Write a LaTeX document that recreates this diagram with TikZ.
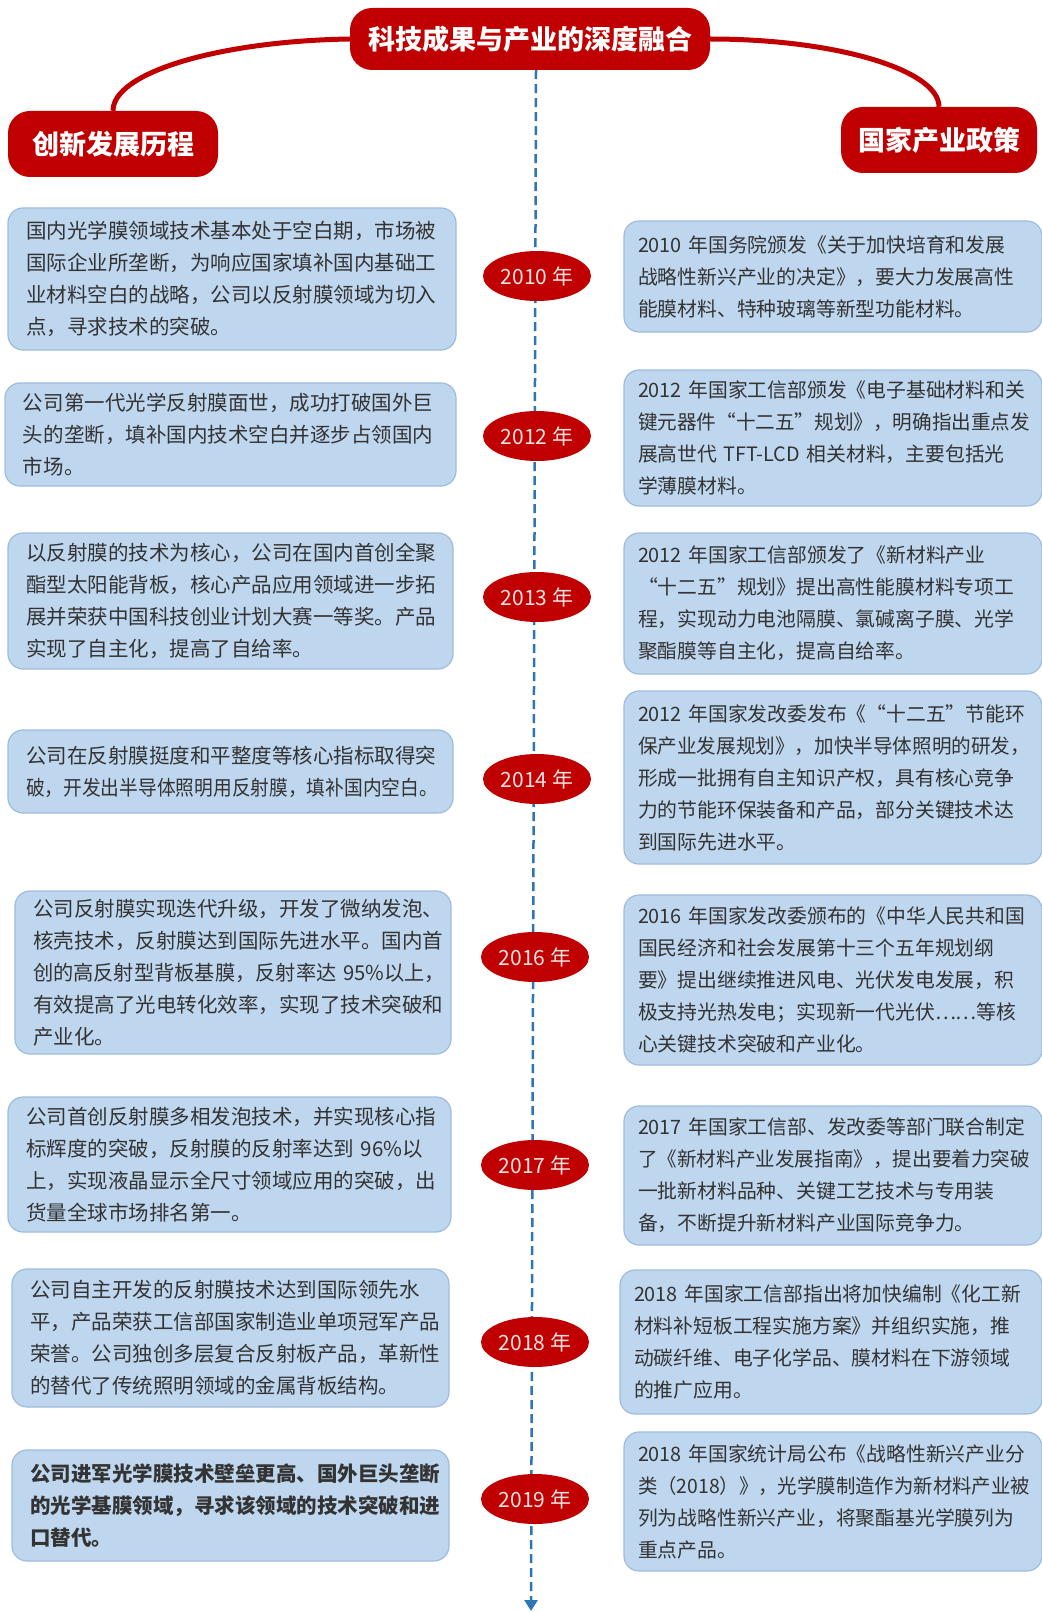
\documentclass[tikz,border=0pt]{standalone}
\usepackage{fontspec}
\setmainfont{Noto Sans CJK SC}
\usepackage{graphicx}
\usetikzlibrary{shapes.geometric,arrows.meta}
\definecolor{hdred}{HTML}{C00000}
\definecolor{boxfill}{HTML}{BED6EE}
\definecolor{boxline}{HTML}{9EBCDD}
\definecolor{txt}{HTML}{333333}
\definecolor{dashblue}{HTML}{2E75B6}
\definecolor{yeartxt}{HTML}{FBE3E3}
\pgfdeclarelayer{bg}
\pgfsetlayers{bg,main}
\newsavebox\fitbox
\makeatletter
\newcommand\fitline[2]{\sbox\fitbox{#2}%
  \ifdim\wd\fitbox>#1\relax
    \edef\fitratio{\strip@pt\dimexpr #1*65536/\wd\fitbox\relax}%
    \scalebox{\fitratio}[1]{\usebox\fitbox}%
  \else\usebox\fitbox\fi}
\makeatother
\newcommand\Ll[1]{\fitline{412pt}{#1}}
\newcommand\Rl[1]{\fitline{392pt}{#1}}
\tikzset{
  lbox/.style={draw=boxline, fill=boxfill, line width=1.2pt, rounded corners=15pt,
    text=txt, font=\fontsize{20.5}{32}\selectfont, align=left, inner xsep=18pt, inner ysep=4pt},
  rbox/.style={draw=boxline, fill=boxfill, line width=1.2pt, rounded corners=15pt,
    text=txt, font=\fontsize{19.8}{32}\selectfont, align=left, inner xsep=14pt, inner ysep=4pt},
  yearnode/.style={ellipse, fill=hdred, text=yeartxt, minimum width=108pt, minimum height=50pt,
    inner sep=0pt, font=\fontsize{21}{24}\selectfont},
  headpill/.style={fill=hdred, rounded corners=22pt, text=white, inner sep=0pt,
    font=\fontsize{27}{30}\selectfont\bfseries},
  curve/.style={draw=hdred, line width=5pt},
  timeline/.style={draw=dashblue, line width=2.5pt, dash pattern=on 9pt off 5pt,
    -{Triangle[width=13pt,length=11pt]}}
}
\begin{document}
\begin{tikzpicture}[x=1pt,y=-1pt]
\useasboundingbox (0,0) rectangle (1041,1613);
% headers
\node[headpill, minimum width=360pt, minimum height=62pt] (title) at (530,39) {科技成果与产业的深度融合};
\node[headpill, minimum width=210pt, minimum height=66pt] (leftHead) at (113,144) {创新发展历程};
\node[headpill, minimum width=196pt, minimum height=66pt] (rightHead) at (939,140) {国家产业政策};
\draw[curve] (title.west) .. controls (221,41) and (113,72) .. (leftHead.north);
\draw[curve] (title.east) .. controls (836,39) and (939,70) .. (rightHead.north);
\coordinate (tlEnd) at (531,1611);
% years
\node[yearnode] (y2010) at (537,276) {2010 年};
\node[yearnode] (y2012) at (537,436) {2012 年};
\node[yearnode] (y2013) at (537,597) {2013 年};
\node[yearnode] (y2014) at (537,779) {2014 年};
\node[yearnode] (y2016) at (535,957) {2016 年};
\node[yearnode] (y2017) at (535,1165) {2017 年};
\node[yearnode] (y2018) at (535,1342) {2018 年};
\node[yearnode] (y2019) at (535,1499) {2019 年};
\begin{pgfonlayer}{bg}
\draw[timeline] ([xshift=6pt]title.south) -- (tlEnd);
\end{pgfonlayer}
% left boxes
\node[lbox, minimum width=448pt, minimum height=142pt, text width=412pt] (L1) at (232,279) {%
\Ll{国内光学膜领域技术基本处于空白期，市场被}\\
\Ll{国际企业所垄断，为响应国家填补国内基础工}\\
\Ll{业材料空白的战略，公司以反射膜领域为切入}\\
\Ll{点，寻求技术的突破。}};
\node[lbox, minimum width=451pt, minimum height=103pt, text width=415pt] (L2) at (230.5,434.5) {%
\Ll{公司第一代光学反射膜面世，成功打破国外巨}\\
\Ll{头的垄断，填补国内技术空白并逐步占领国内}\\
\Ll{市场。}};
\node[lbox, minimum width=445pt, minimum height=136pt, text width=409pt] (L3) at (230.5,601) {%
\Ll{以反射膜的技术为核心，公司在国内首创全聚}\\
\Ll{酯型太阳能背板，核心产品应用领域进一步拓}\\
\Ll{展并荣获中国科技创业计划大赛一等奖。产品}\\
\Ll{实现了自主化，提高了自给率。}};
\node[lbox, minimum width=445pt, minimum height=83pt, text width=409pt] (L4) at (230.5,771.5) {%
\Ll{公司在反射膜挺度和平整度等核心指标取得突}\\
\Ll{破，开发出半导体照明用反射膜，填补国内空白。}};
\node[lbox, minimum width=436pt, minimum height=163pt, text width=400pt] (L5) at (233,972.5) {%
\Ll{公司反射膜实现迭代升级，开发了微纳发泡、}\\
\Ll{核壳技术，反射膜达到国际先进水平。国内首}\\
\Ll{创的高反射型背板基膜，反射率达 95\%以上，}\\
\Ll{有效提高了光电转化效率，实现了技术突破和}\\
\Ll{产业化。}};
\node[lbox, minimum width=443pt, minimum height=135pt, text width=407pt] (L6) at (229.5,1164.5) {%
\Ll{公司首创反射膜多相发泡技术，并实现核心指}\\
\Ll{标辉度的突破，反射膜的反射率达到 96\%以}\\
\Ll{上，实现液晶显示全尺寸领域应用的突破，出}\\
\Ll{货量全球市场排名第一。}};
\node[lbox, minimum width=437pt, minimum height=138pt, text width=401pt] (L7) at (230.5,1338) {%
\Ll{公司自主开发的反射膜技术达到国际领先水}\\
\Ll{平，产品荣获工信部国家制造业单项冠军产品}\\
\Ll{荣誉。公司独创多层复合反射板产品，革新性}\\
\Ll{的替代了传统照明领域的金属背板结构。}};
\node[lbox, minimum width=437pt, minimum height=111pt, text width=401pt, font=\fontsize{20.5}{32}\selectfont\bfseries] (L8) at (230.5,1505.5) {%
\Ll{公司进军光学膜技术壁垒更高、国外巨头垄断}\\
\Ll{的光学基膜领域，寻求该领域的技术突破和进}\\
\Ll{口替代。}};
% right boxes
\node[rbox, minimum width=418pt, minimum height=111pt, text width=390pt] (R1) at (833,276.5) {%
\Rl{2010 年国务院颁发《关于加快培育和发展}\\
\Rl{战略性新兴产业的决定》，要大力发展高性}\\
\Rl{能膜材料、特种玻璃等新型功能材料。}};
\node[rbox, minimum width=418pt, minimum height=136pt, text width=390pt] (R2) at (833,438) {%
\Rl{2012 年国家工信部颁发《电子基础材料和关}\\
\Rl{键元器件“十二五”规划》，明确指出重点发}\\
\Rl{展高世代 TFT-LCD 相关材料，主要包括光}\\
\Rl{学薄膜材料。}};
\node[rbox, minimum width=418pt, minimum height=141pt, text width=390pt] (R3) at (833,603.5) {%
\Rl{2012 年国家工信部颁发了《新材料产业}\\
\Rl{“十二五”规划》提出高性能膜材料专项工}\\
\Rl{程，实现动力电池隔膜、氯碱离子膜、光学}\\
\Rl{聚酯膜等自主化，提高自给率。}};
\node[rbox, minimum width=418pt, minimum height=173pt, text width=390pt] (R4) at (833,777.5) {%
\Rl{2012 年国家发改委发布《“十二五”节能环}\\
\Rl{保产业发展规划》，加快半导体照明的研发，}\\
\Rl{形成一批拥有自主知识产权，具有核心竞争}\\
\Rl{力的节能环保装备和产品，部分关键技术达}\\
\Rl{到国际先进水平。}};
\node[rbox, minimum width=418pt, minimum height=170pt, text width=390pt] (R5) at (833,980) {%
\Rl{2016 年国家发改委颁布的《中华人民共和国}\\
\Rl{国民经济和社会发展第十三个五年规划纲}\\
\Rl{要》提出继续推进风电、光伏发电发展，积}\\
\Rl{极支持光热发电；实现新一代光伏⋯⋯等核}\\
\Rl{心关键技术突破和产业化。}};
\node[rbox, minimum width=418pt, minimum height=139pt, text width=390pt] (R6) at (833,1175.5) {%
\Rl{2017 年国家工信部、发改委等部门联合制定}\\
\Rl{了《新材料产业发展指南》，提出要着力突破}\\
\Rl{一批新材料品种、关键工艺技术与专用装}\\
\Rl{备，不断提升新材料产业国际竞争力。}};
\node[rbox, minimum width=422pt, minimum height=144pt, text width=394pt] (R7) at (831,1342) {%
\Rl{2018 年国家工信部指出将加快编制《化工新}\\
\Rl{材料补短板工程实施方案》并组织实施，推}\\
\Rl{动碳纤维、电子化学品、膜材料在下游领域}\\
\Rl{的推广应用。}};
\node[rbox, minimum width=418pt, minimum height=139pt, text width=390pt] (R8) at (833,1501.5) {%
\Rl{2018 年国家统计局公布《战略性新兴产业分}\\
\Rl{类（2018）》，光学膜制造作为新材料产业被}\\
\Rl{列为战略性新兴产业，将聚酯基光学膜列为}\\
\Rl{重点产品。}};
\end{tikzpicture}
\end{document}
